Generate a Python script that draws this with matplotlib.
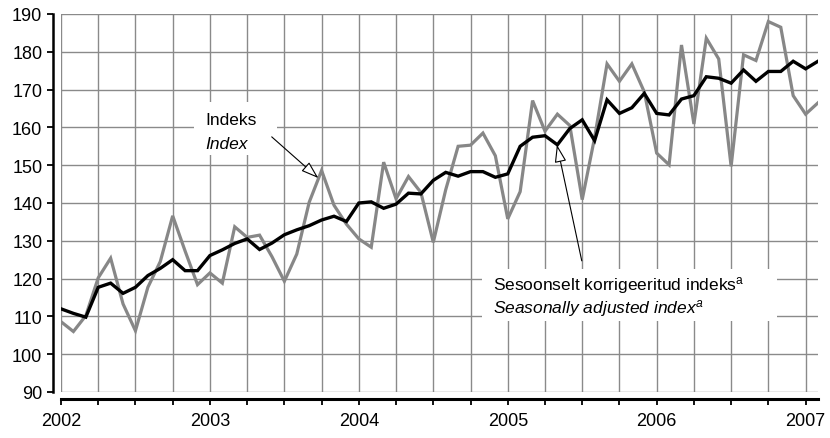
import matplotlib
matplotlib.use("Agg")
import matplotlib.pyplot as plt
from matplotlib.patches import Rectangle
import numpy as np

plt.rcParams["font.family"] = "Liberation Sans"
plt.rcParams["mathtext.fontset"] = "custom"
plt.rcParams["mathtext.rm"] = "Liberation Sans"
plt.rcParams["mathtext.it"] = "Liberation Sans:italic"

# monthly values, Jan 2002 .. Feb 2007
start_year = 2002
index_vals = [
    108.6, 106.0, 110.2, 120.2, 125.4, 113.3, 106.2, 117.7, 124.5, 136.6, 127.3, 118.4,
    121.5, 118.8, 133.7, 130.9, 131.5, 125.8, 119.3, 126.5, 140.2, 148.6, 139.4, 134.4,
    130.5, 128.3, 150.8, 141.1, 147.0, 142.8, 129.6, 143.5, 155.0, 155.3, 158.5, 152.5,
    135.8, 143.0, 167.1, 159.0, 163.5, 160.5, 140.9, 157.3, 176.8, 172.2, 176.8, 169.4,
    153.2, 150.1, 181.8, 160.9, 183.6, 178.1, 149.7, 179.2, 177.7, 188.0, 186.5, 168.4,
    163.5, 166.5,
]
sa_vals = [
    112.0, 110.8, 109.8, 117.7, 118.8, 116.1, 117.7, 120.8, 122.7, 125.0, 122.1, 122.1,
    126.1, 127.6, 129.3, 130.5, 127.7, 129.4, 131.6, 132.9, 134.0, 135.5, 136.5, 135.1,
    140.0, 140.3, 138.6, 139.7, 142.6, 142.4, 146.0, 148.1, 147.1, 148.3, 148.3, 146.8,
    147.7, 155.0, 157.4, 157.8, 155.4, 159.7, 162.0, 156.5, 167.3, 163.7, 165.2, 169.0,
    163.7, 163.3, 167.5, 168.4, 173.4, 173.0, 171.7, 175.2, 172.2, 174.8, 174.8, 177.5,
    175.5, 177.5,
]
years = [2002, 2003, 2004, 2005, 2006, 2007]
y_ticks = list(range(90, 191, 10))

x = start_year + np.arange(len(index_vals)) / 12.0
quarters = start_year + np.arange(0, 4 * (years[-1] - years[0]) + 1) / 4.0
q_labels = [str(int(q)) if abs(q - round(q)) < 1e-9 else "" for q in quarters]

fig = plt.figure(figsize=(8.3, 4.39), dpi=100)
ax = fig.add_axes([61 / 830, 1 - 393 / 439, 757 / 830, 378 / 439])

ax.plot(x, index_vals, color="#878787", lw=2.3, zorder=3, solid_joinstyle="miter")
ax.plot(x, sa_vals, color="black", lw=2.4, zorder=4, solid_joinstyle="miter")

ax.set_xlim(x[0], x[-1])
ax.set_ylim(90, 190)
ax.set_yticks(y_ticks)
ax.set_xticks(quarters)
ax.set_xticklabels(q_labels)
ax.grid(True, color="#8a8a8a", lw=1.0)
ax.set_axisbelow(True)

for s in ["top", "right"]:
    ax.spines[s].set_visible(False)
ax.spines["left"].set_position(("outward", 6))
ax.spines["bottom"].set_position(("outward", 5))
ax.spines["left"].set_linewidth(1.8)
ax.spines["bottom"].set_linewidth(2.2)
ax.tick_params(axis="y", length=4.5, width=1.3, pad=3, labelsize=13)
ax.tick_params(axis="x", length=4, width=1.3, pad=5.5, labelsize=13)

# white boxes behind the labels
ax.add_patch(Rectangle((2002.893, 152.7), 0.558, 14.0, fc="white", ec="none", zorder=2))
ax.add_patch(Rectangle((2004.825, 108.8), 1.982, 13.7, fc="white", ec="none", zorder=2))

ax.text(2002.967, 160.9, "Indeks", fontsize=12.5, va="baseline", zorder=5)
ax.text(2002.967, 154.6, "Index", fontsize=12.5, style="italic", va="baseline", zorder=5)
ax.text(2004.899, 117.25, r"Sesoonselt korrigeeritud indeks$^{\mathrm{a}}$",
        fontsize=12.5, va="baseline", zorder=5)
ax.text(2004.899, 111.2, r"Seasonally adjusted index$^{a}$",
        fontsize=12.5, style="italic", va="baseline", zorder=5)

arrow = dict(arrowstyle="-|>,head_length=0.9,head_width=0.3", fc="white", ec="black",
             lw=0.8, shrinkA=0, shrinkB=0, mutation_scale=12)
ax.annotate("", xy=(2003.728, 146.6), xytext=(2003.415, 157.5), arrowprops=arrow, zorder=6)
ax.annotate("", xy=(2005.33, 155.4), xytext=(2005.497, 124.7), arrowprops=arrow, zorder=6)

fig.savefig("out.png", dpi=100)
